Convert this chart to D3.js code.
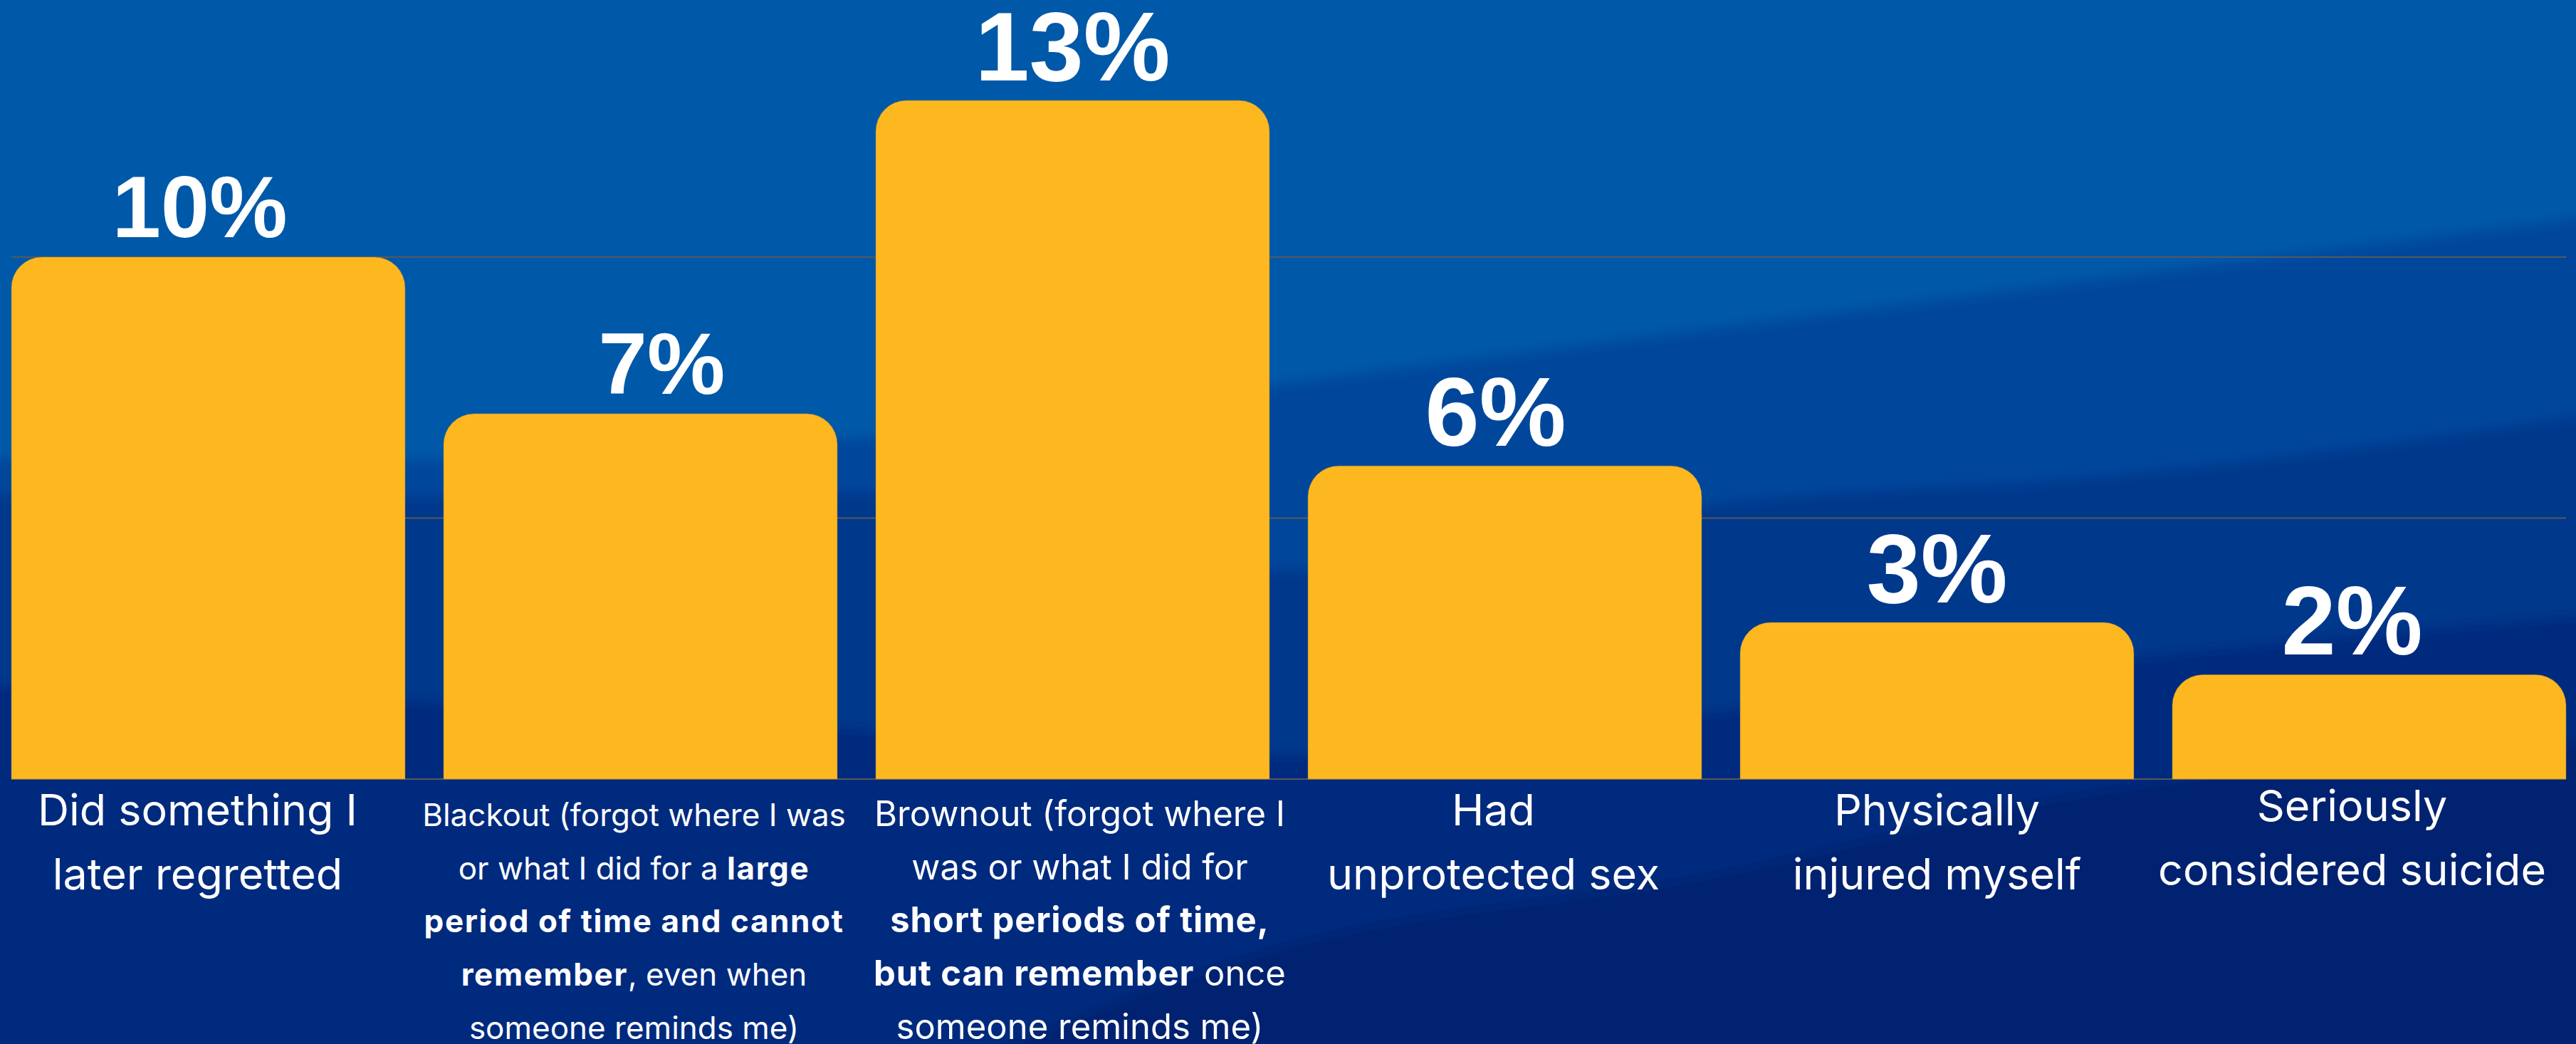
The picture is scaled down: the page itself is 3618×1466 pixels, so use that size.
<!DOCTYPE html>
<html>
<head>
<meta charset="utf-8">
<script src="https://cdn.jsdelivr.net/npm/d3@7"></script>
<style>
  html, body { margin: 0; padding: 0; overflow: hidden; background: #0358a8; }
  svg { display: block; }
  text { white-space: pre; }
</style>
</head>
<body>
<svg id="chart"></svg>
<script>
// ---- data ----
const categories = [
  "Did something I later regretted",
  "Blackout",
  "Brownout",
  "Had unprotected sex",
  "Physically injured myself",
  "Seriously considered suicide"
];
const values = [10, 7, 13, 6, 3, 2];
const gridTicks = [0, 5, 10, 15];

// category label lines, each line a list of [text, bold] runs
const categoryLines = [
  [[["Did something I", false]], [["later regretted", false]]],
  [
    [["Blackout (forgot where I was", false]],
    [["or what I did for a ", false], ["large", true]],
    [["period of time and cannot", true]],
    [["remember", true], [", even when", false]],
    [["someone reminds me)", false]]
  ],
  [
    [["Brownout (forgot where I", false]],
    [["was or what I did for", false]],
    [["short periods of time,", true]],
    [["but can remember", true], [" once", false]],
    [["someone reminds me)", false]]
  ],
  [[["Had", false]], [["unprotected sex", false]]],
  [[["Physically", false]], [["injured myself", false]]],
  [[["Seriously", false]], [["considered suicide", false]]]
];

// ---- layout & style ----
const W = 3618, H = 1466;
const barColor = "#FEB81F";
const gridColor = "#56585e";
const valueFontSize = [123, 123, 137, 137, 137, 137];
const valueNudge = [-12, 30, 0, -13, 0, -24];
const catNudge = [-15, -9, 10, -16, 0, -24];
const catFontSize = [61, 44, 49, 61, 61, 61];
const boldSpacing = [0, 1.6, 0.8, 0, 0, 0];
const catFirstBaseline = [65, 66, 66, 65, 65, 59];
const cornerR = 43;

const svg = d3.select("#chart").attr("width", W).attr("height", H);

// ---- background: layered diagonal blue bands ----
const defs = svg.append("defs");
defs.append("filter").attr("id", "soft")
  .attr("x", "-5%").attr("y", "-5%").attr("width", "110%").attr("height", "110%")
  .append("feGaussianBlur").attr("stdDeviation", 9);

const bands = [
  { color: "#00479B", edge: [[-50, 643], [600, 645], [1200, 615], [1800, 538], [2900, 398], [W + 50, 300]] },
  { color: "#00378C", edge: [[-50, 695], [600, 697], [1200, 690], [1800, 800], [2472, 700], [2900, 673], [W + 50, 578]] },
  { color: "#002B7E", edge: [[-50, 960], [900, 1000], [1800, 1060], [2400, 1000], [2900, 934], [W + 50, 860]] },
  { color: "#00226F", edge: [[1300, H + 50], [1800, 1330], [2400, 1230], [2900, 1120], [W + 50, 1040]] }
];
const bgG = svg.append("g").attr("filter", "url(#soft)");
bgG.append("rect").attr("x", -50).attr("y", -50).attr("width", W + 100).attr("height", H + 100).attr("fill", "#0358A8");
bands.forEach(b => {
  const tail = [[W + 50, H + 50], [b.edge[0][0], H + 50]];
  bgG.append("path")
    .attr("d", d3.line().curve(d3.curveMonotoneX)(b.edge) + "L" + tail.map(p => p.join(",")).join("L") + "Z")
    .attr("fill", b.color);
});

// ---- scales ----
const x = d3.scaleBand()
  .domain(categories)
  .range([16, 3604])
  .paddingInner(0.089)
  .paddingOuter(0);

const y = d3.scaleLinear()
  .domain([0, 10])
  .range([1094, 361]);

// ---- gridlines ----
svg.append("g")
  .selectAll("line")
  .data(gridTicks)
  .join("line")
  .attr("x1", x.range()[0])
  .attr("x2", x.range()[1])
  .attr("y1", d => y(d))
  .attr("y2", d => y(d))
  .attr("stroke", gridColor)
  .attr("stroke-width", 2.2);

// ---- bars with rounded top corners ----
function barPath(x0, w, yTop, yBase, r) {
  const rr = Math.min(r, w / 2, yBase - yTop);
  return `M${x0},${yBase}` +
    `L${x0},${yTop + rr}` +
    `A${rr},${rr} 0 0 1 ${x0 + rr},${yTop}` +
    `L${x0 + w - rr},${yTop}` +
    `A${rr},${rr} 0 0 1 ${x0 + w},${yTop + rr}` +
    `L${x0 + w},${yBase}Z`;
}

svg.append("g")
  .selectAll("path")
  .data(categories)
  .join("path")
  .attr("d", (c, i) => barPath(x(c), x.bandwidth(), y(values[i]), y(0), cornerR))
  .attr("fill", barColor)
  .attr("stroke", "#8a7a58")
  .attr("stroke-width", 0.8)
  .attr("stroke-opacity", 0.6);

// ---- value labels ----
svg.append("g")
  .selectAll("text")
  .data(categories)
  .join("text")
  .attr("x", (c, i) => x(c) + x.bandwidth() / 2 + valueNudge[i])
  .attr("y", (c, i) => y(values[i]) - 28)
  .attr("text-anchor", "middle")
  .attr("font-family", "'Liberation Sans', Arial, Helvetica, sans-serif")
  .attr("font-weight", 700)
  .attr("font-size", (c, i) => valueFontSize[i])
  .attr("fill", "#ffffff")
  .text((c, i) => values[i] + "%");

// ---- category labels ----
const catG = svg.append("g")
  .attr("font-family", "Inter, Roboto, 'Open Sans', sans-serif")
  .attr("fill", "#ffffff");

categories.forEach((c, i) => {
  const lines = categoryLines[i];
  const lh = lines.length > 2 ? 74.7 : 90;
  const cx = x(c) + x.bandwidth() / 2 + catNudge[i];
  lines.forEach((runs, j) => {
    const t = catG.append("text")
      .attr("x", cx)
      .attr("y", y(0) + catFirstBaseline[i] + j * lh)
      .attr("text-anchor", "middle")
      .attr("font-size", catFontSize[i]);
    runs.forEach(([txt, bold]) => {
      t.append("tspan")
        .attr("font-weight", bold ? 700 : 400)
        .attr("letter-spacing", bold ? boldSpacing[i] : 0)
        .text(txt);
    });
  });
});
</script>
</body>
</html>
